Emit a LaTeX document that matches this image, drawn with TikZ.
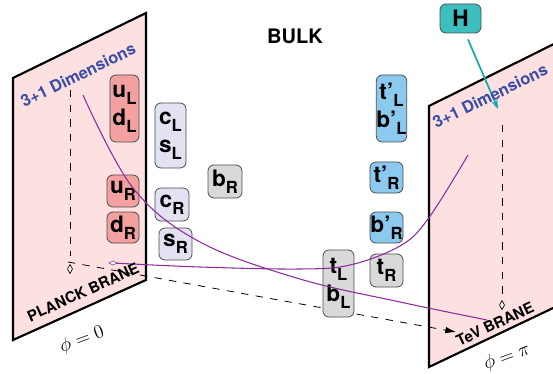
\documentclass[tikz,border=0pt]{standalone}
\usepackage{fontspec}
\setsansfont{TeX Gyre Heros}
\usetikzlibrary{arrows.meta}
\definecolor{branefill}{HTML}{FDE1E1}
\definecolor{salmonb}{HTML}{F3A0A0}
\definecolor{lavb}{HTML}{E2E2F2}
\definecolor{grayb}{HTML}{D9D9D9}
\definecolor{blueb}{HTML}{8CC9EF}
\definecolor{tealb}{HTML}{3DBFC0}
\definecolor{teala}{HTML}{19ABAB}
\definecolor{purp}{HTML}{8E2C9E}
\definecolor{dimblue}{HTML}{3A4CA8}
\newcommand{\qsub}[1]{\raisebox{-0.3em}{\fontsize{12.5}{12.5}\selectfont #1}}
\begin{document}
\begin{tikzpicture}[x=0.75pt,y=-0.75pt,
  part/.style={draw=black!70, line width=0.6pt, rounded corners=4.5pt, inner sep=0pt,
    font=\sffamily\bfseries\fontsize{17}{21}\selectfont, align=center},
  sz/.style 2 args={minimum width=#1*0.75pt, minimum height=#2*0.75pt},
  brane/.style={fill=branefill, draw=black, line width=1.6pt, line join=miter},
  dimtext/.style={font=\sffamily\bfseries\fontsize{12.3}{14}\selectfont, text=dimblue},
  branelabel/.style={font=\sffamily\bfseries\fontsize{11.3}{13}\selectfont},
  guide/.style={dashed, dash pattern=on 5.5pt off 5.5pt, line width=0.6pt},
  wave/.style={purp, line width=0.8pt},
  pointmark/.style={fill=white, draw=black, line width=0.5pt}
]
\useasboundingbox (0,0) rectangle (553,374);
\clip (0,0) rectangle (553,374);

% right brane
\draw[brane] (429,106) -- (570,36) -- (570,300) -- (429,367) -- cycle;
% left brane
\draw[brane] (13,78) -- (146,13) -- (146,280) -- (13,340) -- cycle;

% guide lines
\coordinate (lv1) at (70,90);
\coordinate (lv2) at (70,256);
\draw[guide] (lv1) -- (lv2);
\coordinate (rv1) at (502,125);
\coordinate (rv2) at (502,296);
\draw[guide] (rv1) -- (rv2);
\coordinate (hs) at (68,262);
\coordinate (he) at (456,332);
\draw[guide, -{Latex[length=8pt,width=5pt]}] (hs) -- (he);

% particle boxes
\node[part, fill=salmonb, sz={29}{67}] (uLdL) at (124.5,108.5) {u\qsub{L}\\d\qsub{L}};
\node[part, fill=salmonb, sz={32}{32}] (uR) at (123,191) {u\qsub{R}};
\node[part, fill=salmonb, sz={32}{31}] (dR) at (123,227.5) {d\qsub{R}};
\node[part, fill=lavb, sz={31}{65}] (cLsL) at (170.5,135.5) {c\qsub{L}\\s\qsub{L}};
\node[part, fill=lavb, sz={34}{33}] (cR) at (172,204.5) {c\qsub{R}};
\node[part, fill=lavb, sz={33}{32}] (sR) at (175.5,244) {s\qsub{R}};
\node[part, fill=grayb, sz={34}{33}] (bR) at (225,181.5) {b\qsub{R}};
\node[part, fill=blueb, sz={29}{67}] (tpLbpL) at (391.5,108.5) {t’\qsub{L}\\b’\qsub{L}};
\node[part, fill=blueb, sz={33}{31}] (tpR) at (386.5,177.5) {t’\qsub{R}};
\node[part, fill=blueb, sz={33}{31}] (bpR) at (386.5,227.5) {b’\qsub{R}};
\node[part, fill=grayb, sz={33}{33}] (tR) at (386.5,270.5) {t\qsub{R}};
\node[part, fill=grayb, sz={31}{67}] (tLbL) at (338.5,283.5) {t\qsub{L}\\b\qsub{L}};
\node[part, fill=tealb, sz={41}{29}] (H) at (460.5,18.5) {H};

% profiles
\draw[wave] plot[smooth, tension=0.6] coordinates {(83,95) (133,188) (200,242) (300,279) (400,302) (487,320)};
\draw[wave] plot[smooth, tension=0.6] coordinates {(113,263) (200,267) (300,269) (350,265) (400,246) (428,219) (468,155)};

% markers
\draw[pointmark] (70,264.5) -- (72.5,269) -- (70,273.5) -- (67.5,269) -- cycle;
\draw[pointmark, draw=purp] (109,263) -- (113,261) -- (117,263) -- (113,265) -- cycle;
\draw[pointmark] (502,300.5) -- (504.5,305) -- (502,309.5) -- (499.5,305) -- cycle;

% Higgs arrow
\coordinate (Ht) at (498,109);
\draw[teala, line width=1.3pt, -{Stealth[length=7pt,width=5pt]}] (H.south -| 468,0) ++(0,6) -- (Ht);

% labels
\node[dimtext, rotate=26] (dimL) at (78,75) {3+1 Dimensions};
\node[dimtext, rotate=26] (dimR) at (490,96) {3+1 Dimensions};
\node[branelabel, rotate=24.5] (planck) at (83,292) {PLANCK BRANE};
\node[branelabel, rotate=25] (tev) at (495,324) {TeV BRANE};
\node[font=\sffamily\bfseries\fontsize{15}{17}\selectfont] (bulk) at (295,36) {BULK};
\node[rotate=20, font=\fontsize{14}{16}\selectfont] (phi0) at (82,340) {$\phi=0$};
\node[rotate=20, font=\fontsize{14}{16}\selectfont] (phipi) at (507,357) {$\phi=\pi$};
\end{tikzpicture}
\end{document}
